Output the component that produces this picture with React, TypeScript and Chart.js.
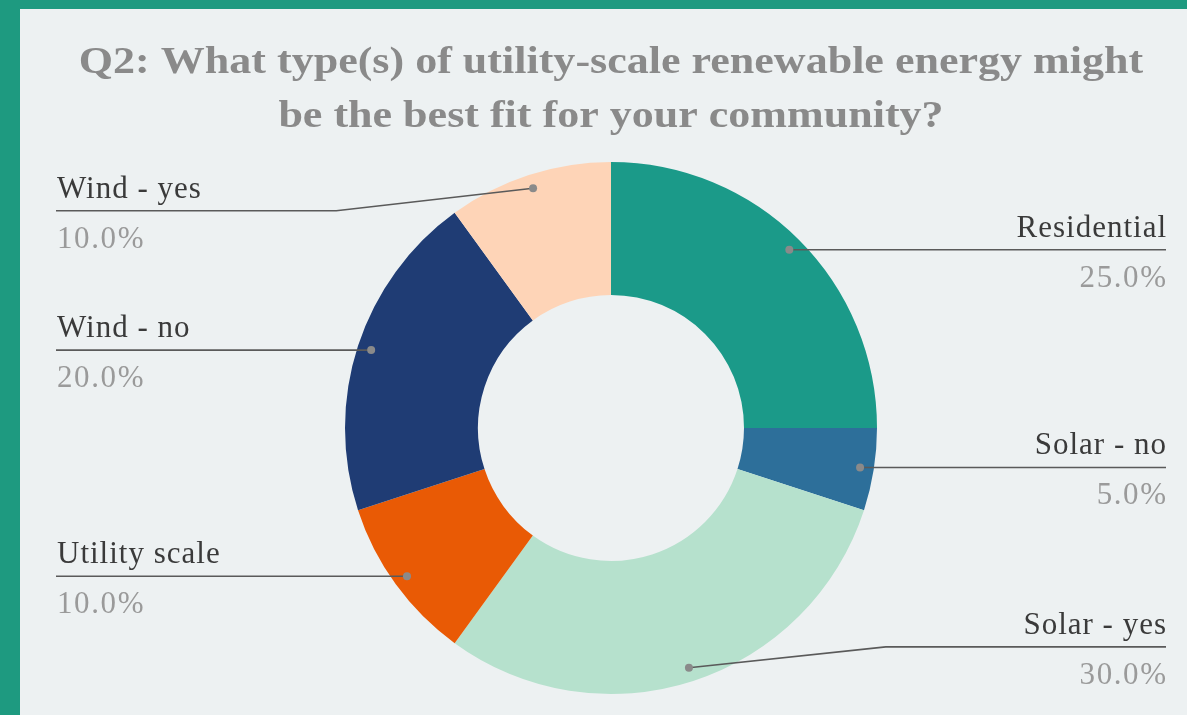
import React, { useEffect, useRef } from "react";
import { Chart, registerables } from "chart.js";

Chart.register(...registerables);

const categories = ["Residential", "Solar - no", "Solar - yes", "Utility scale", "Wind - no", "Wind - yes"];
const shares = [25, 5, 30, 10, 20, 10];
const sliceColors = ["#1b9a89", "#2d6f9a", "#b6e1cd", "#e95a05", "#1f3c74", "#fed4b7"];
const titleLines = ["Q2: What type(s) of utility-scale renewable energy might", "be the best fit for your community?"];

const FONT = "'Liberation Serif', 'Times New Roman', serif";

const titlePlugin = {
  id: "stretchedTitle",
  afterDraw(chart: any) {
    const ctx = chart.ctx;
    const cx = (chart.chartArea.left + chart.chartArea.right) / 2;
    ctx.save();
    ctx.font = `bold 37px ${FONT}`;
    ctx.fillStyle = "#8a8a8a";
    ctx.textAlign = "center";
    ctx.textBaseline = "alphabetic";
    ctx.translate(cx, 0);
    ctx.scale(1.19, 1);
    ctx.fillText(titleLines[0], 0, 64);
    ctx.fillText(titleLines[1], 0, 118);
    ctx.restore();
  },
};

const leaderPlugin = {
  id: "leaders",
  afterDatasetsDraw(chart: any) {
    const ctx = chart.ctx;
    const meta = chart.getDatasetMeta(0);
    const data = chart.data.datasets[0].data as number[];
    const total = data.reduce((a, b) => a + b, 0);
    const leftX = 36;
    const rightX = chart.width - 21;
    ctx.save();
    meta.data.forEach((arc: any, i: number) => {
      const p = arc.getProps(["x", "y", "startAngle", "endAngle", "outerRadius"], true);
      const mid = (p.startAngle + p.endAngle) / 2;
      const R = p.outerRadius;
      const dr = R * 0.948;
      const dx = p.x + dr * Math.cos(mid);
      const dy = p.y + dr * Math.sin(mid);
      const right = dx > p.x;
      const minY = p.y - R * 0.817;
      const maxY = p.y + R * 0.823;
      const ly = Math.min(maxY, Math.max(minY, dy));
      const clamped = Math.abs(ly - dy) > 0.5;
      const elbowX = clamped ? (right ? dx + R * 0.74 : dx - R * 0.74) : dx;
      ctx.strokeStyle = "#5a5a5a";
      ctx.lineWidth = 1.6;
      ctx.beginPath();
      ctx.moveTo(right ? rightX : leftX, ly);
      ctx.lineTo(elbowX, ly);
      ctx.lineTo(dx, dy);
      ctx.stroke();
      ctx.fillStyle = "#8a8a8a";
      ctx.beginPath();
      ctx.arc(dx, dy, 4, 0, Math.PI * 2);
      ctx.fill();
      ctx.textAlign = right ? "right" : "left";
      ctx.textBaseline = "alphabetic";
      ctx.font = `31px ${FONT}`;
      ctx.fillStyle = "#3a3a3a";
      (ctx as any).letterSpacing = "1px";
      ctx.fillText(chart.data.labels[i], right ? rightX + 1 : leftX + 1, ly - 13);
      ctx.fillStyle = "#9a9a9a";
      (ctx as any).letterSpacing = "1.6px";
      ctx.fillText(((data[i] / total) * 100).toFixed(1) + "%", right ? rightX + 1.6 : leftX + 1, ly + 37);
      (ctx as any).letterSpacing = "0px";
    });
    ctx.restore();
  },
};

export default function App() {
  const ref = useRef<HTMLCanvasElement>(null);
  useEffect(() => {
    if (!ref.current) return;
    const chart = new Chart(ref.current, {
      type: "doughnut",
      data: {
        labels: categories,
        datasets: [
          {
            data: shares,
            backgroundColor: sliceColors,
            borderWidth: 0,
          },
        ],
      },
      options: {
        animation: false,
        responsive: false,
        devicePixelRatio: 1,
        cutout: "50%",
        layout: { padding: { left: 15, right: 0, top: 153, bottom: 21 } },
        plugins: {
          legend: { display: false },
          tooltip: { enabled: false },
          title: { display: false },
        },
      },
      plugins: [leaderPlugin, titlePlugin],
    });
    return () => chart.destroy();
  }, []);
  return (
    <div style={{ position: "fixed", left: 0, top: 0, width: 1187, height: 715, background: "#1e9a80", overflow: "hidden" }}>
      <div style={{ position: "absolute", left: 20, top: 9, width: 1167, height: 706, background: "#edf1f2" }}>
        <canvas ref={ref} width={1167} height={706} style={{ display: "block" }} />
      </div>
    </div>
  );
}
